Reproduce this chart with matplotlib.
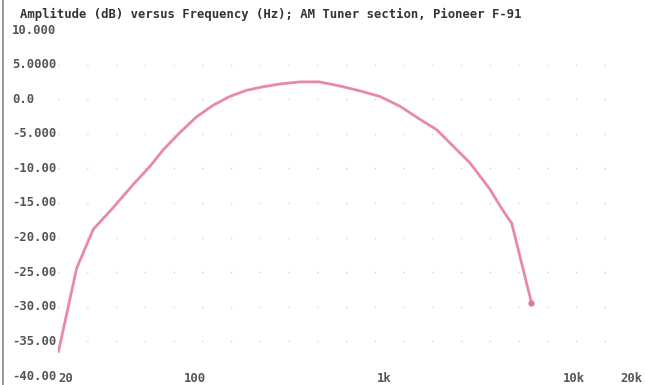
import matplotlib
matplotlib.use("Agg")
import matplotlib.pyplot as plt
import matplotlib.transforms as mtransforms

# Data
freq_hz = [20.1, 25.1, 30.7, 38.4, 49.9, 61.1, 71.8, 88, 107, 131, 161, 198, 242, 296,
           377, 479, 614, 782, 996, 1268, 1619, 1983, 2426, 2970, 3787, 4189, 4540,
           4930, 6270]
amp_db = [-36.5, -24.4, -18.8, -15.9, -12.3, -9.7, -7.3, -4.8, -2.6, -0.9, 0.4, 1.3, 1.8, 2.2,
          2.5, 2.5, 1.9, 1.2, 0.4, -1.0, -2.9, -4.4, -6.8, -9.2, -13.0, -15.0, -16.5,
          -17.9, -29.4]

y_ticks = [10, 5, 0, -5, -10, -15, -20, -25, -30, -35, -40]
y_labels = ["10.000", "5.0000", "0.0", "-5.000", "-10.00", "-15.00", "-20.00",
            "-25.00", "-30.00", "-35.00", "-40.00"]
x_ticks = [20, 100, 1000, 10000, 20000]
x_labels = ["20", "100", "1k", "10k", "20k"]
title = "Amplitude (dB) versus Frequency (Hz); AM Tuner section, Pioneer F-91"

W, H = 646, 385
fig = plt.figure(figsize=(W / 100, H / 100), dpi=100)
fig.patch.set_facecolor("white")
left, right = 58 / W, 627 / W
top, bottom = 1 - 30 / H, 1 - 376 / H
ax = fig.add_axes([left, bottom, right - left, top - bottom])
ax.set_xscale("log")
ax.set_xlim(20, 20000)
ax.set_ylim(-40, 10)
for s in ax.spines.values():
    s.set_visible(False)
ax.set_xticks([])
ax.set_yticks([])
ax.minorticks_off()

mono = {"family": "DejaVu Sans Mono", "weight": "bold", "size": 8.8}

# faint dotted grid
for yv in y_ticks[1:-1]:
    ax.axhline(yv, color="#cccccc", lw=0.9, linestyle=(0, (1, 22)), zorder=1)

# curve
ax.plot(freq_hz, amp_db, color="#e88aa2", lw=2.0, solid_capstyle="round",
        solid_joinstyle="round", zorder=3)
ax.plot([freq_hz[-1]], [amp_db[-1]], "o", color="#e07a96", ms=3.5, zorder=4)

# y labels (left-aligned, as in the reference)
ytrans = mtransforms.blended_transform_factory(ax.transAxes, ax.transData)
x_lab = (12 / W - left) / (right - left)
for yv, lab in zip(y_ticks, y_labels):
    ax.text(x_lab, yv, lab, transform=ytrans, ha="left", va="center",
            color="#555555", **mono)

# x labels, on the same row as the -40 label
xtrans = mtransforms.blended_transform_factory(ax.transData, ax.transAxes)
y_xlab = (376 - 379) / (376 - 30)
for xv, lab in zip(x_ticks, x_labels):
    ha = "left" if xv == 20 else "center"
    ax.text(xv * (1.0 if xv == 20 else 1.05), y_xlab, lab, transform=xtrans,
            ha=ha, va="center", color="#555555", **mono)

# title
fig.text(20 / W, 1 - 14 / H, title, ha="left", va="center", color="#333333", **mono)

# scan-edge line at the left
fig.add_artist(plt.Line2D([3 / W, 3 / W], [0, 1], color="#888888", lw=1.2))

fig.savefig("out.png", dpi=100, facecolor="white")
